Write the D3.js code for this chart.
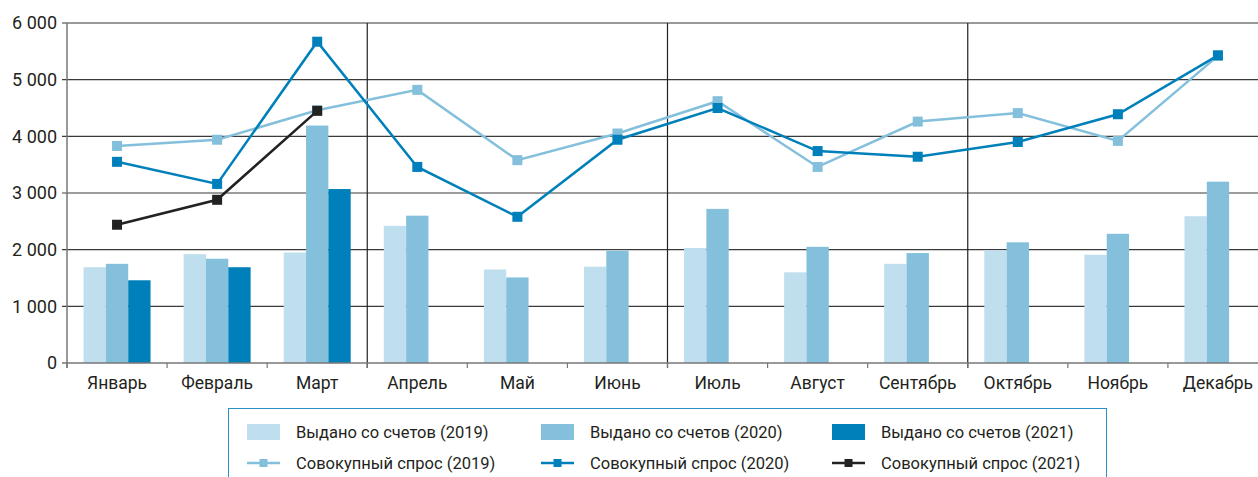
<html>
<script src="https://d3js.org/d3.v7.min.js"></script>
<style>
body { margin: 0; background: white; }
text { font-family: Roboto, "Liberation Sans", sans-serif; fill: #231f20; }
</style>
<body>
<svg width="1258" height="477"></svg>
<script>
// months and values
const months = ["Январь", "Февраль", "Март", "Апрель", "Май", "Июнь", "Июль", "Август", "Сентябрь", "Октябрь", "Ноябрь", "Декабрь"];
const issued2019 = [1690, 1920, 1950, 2420, 1650, 1700, 2030, 1600, 1750, 1990, 1910, 2590];
const issued2020 = [1750, 1840, 4190, 2600, 1510, 1980, 2720, 2050, 1940, 2130, 2280, 3200];
const issued2021 = [1460, 1690, 3070];
const demand2019 = [3830, 3940, 4460, 4820, 3580, 4050, 4620, 3460, 4260, 4410, 3920, 5420];
const demand2020 = [3550, 3160, 5670, 3460, 2580, 3940, 4500, 3740, 3640, 3900, 4390, 5430];
const demand2021 = [2440, 2880, 4450];
const yTicks = [0, 1000, 2000, 3000, 4000, 5000, 6000];

const c1 = "#bfdeee", c2 = "#84c0dc", c3 = "#0080bb";

const svg = d3.select("svg");

const x = d3.scaleBand().domain(months).range([67, 1268]);
const y = d3.scaleLinear().domain([0, 6000]).range([363, 23]);
const xs = d3.scaleBand().domain([0, 1, 2]).range([0, 67]);
const pad = (x.bandwidth() - 67) / 2;

// horizontal grid
svg.append("g")
  .selectAll("line")
  .data(yTicks.slice(1))
  .enter()
  .append("line")
  .attr("x1", 62).attr("x2", 1268)
  .attr("y1", d => y(d)).attr("y2", d => y(d))
  .attr("stroke", d => d == 6000 ? "#777" : "#3a3a3a")
  .attr("stroke-width", d => d == 6000 ? 1.5 : 1.2);

// y labels
svg.append("g")
  .selectAll("text")
  .data(yTicks)
  .enter()
  .append("text")
  .attr("x", 57)
  .attr("y", d => y(d))
  .attr("dy", "0.36em")
  .attr("text-anchor", "end")
  .style("font-size", "18px")
  .text(d => d3.format(",")(d).replace(",", " "));

// quarter separators
svg.append("g")
  .selectAll("line")
  .data(["Апрель", "Июль", "Октябрь"])
  .enter()
  .append("line")
  .attr("x1", d => x(d)).attr("x2", d => x(d))
  .attr("y1", 23).attr("y2", 368)
  .attr("stroke", "#222")
  .attr("stroke-width", 1.2);

// bars
const barSeries = [issued2019, issued2020, issued2021];
const barColors = [c1, c2, c3];
barSeries.forEach((vals, k) => {
  svg.append("g")
    .selectAll("rect")
    .data(vals)
    .enter()
    .append("rect")
    .attr("x", (d, i) => x(months[i]) + pad + xs(k))
    .attr("y", d => y(d))
    .attr("width", xs.bandwidth())
    .attr("height", d => y(0) - y(d))
    .attr("fill", barColors[k]);
});

// x axis
svg.append("line")
  .attr("x1", 62).attr("x2", 1268)
  .attr("y1", 363).attr("y2", 363)
  .attr("stroke", "#777").attr("stroke-width", 1.5);
svg.append("line")
  .attr("x1", 67).attr("x2", 67)
  .attr("y1", 23).attr("y2", 368)
  .attr("stroke", "#777").attr("stroke-width", 1.5);
svg.append("g")
  .selectAll("line")
  .data(months)
  .enter()
  .append("line")
  .attr("x1", d => x(d)).attr("x2", d => x(d))
  .attr("y1", 363).attr("y2", 368)
  .attr("stroke", "#777").attr("stroke-width", 1.2);

svg.append("g")
  .selectAll("text")
  .data(months)
  .enter()
  .append("text")
  .attr("x", d => x(d) + x.bandwidth() / 2)
  .attr("y", 383)
  .attr("dy", "0.36em")
  .attr("text-anchor", "middle")
  .style("font-size", "17.5px")
  .text(d => d);

// lines
const lineSeries = [demand2019, demand2020, demand2021];
const lineColors = [c2, c3, "#222"];
const line = d3.line()
  .x((d, i) => x(months[i]) + x.bandwidth() / 2)
  .y(d => y(d));
lineSeries.forEach((vals, k) => {
  const g = svg.append("g");
  g.append("path")
    .attr("d", line(vals))
    .attr("fill", "none")
    .attr("stroke", lineColors[k])
    .attr("stroke-width", 2.5);
  g.selectAll("rect")
    .data(vals)
    .enter()
    .append("rect")
    .attr("x", (d, i) => x(months[i]) + x.bandwidth() / 2 - 5)
    .attr("y", d => y(d) - 5)
    .attr("width", 10).attr("height", 10)
    .attr("fill", lineColors[k]);
});

// legend
svg.append("rect")
  .attr("x", 228.5).attr("y", 408.5)
  .attr("width", 878).attr("height", 80)
  .attr("fill", "none")
  .attr("stroke", "#2a8fc4").attr("stroke-width", 1);

const legendBars = ["Выдано со счетов (2019)", "Выдано со счетов (2020)", "Выдано со счетов (2021)"];
const legendLines = ["Совокупный спрос (2019)", "Совокупный спрос (2020)", "Совокупный спрос (2021)"];
const colX = [247, 541, 832];

legendBars.forEach((t, k) => {
  svg.append("rect")
    .attr("x", colX[k]).attr("y", 424)
    .attr("width", 33).attr("height", 16)
    .attr("fill", barColors[k]);
  svg.append("text")
    .attr("x", colX[k] + 49).attr("y", 432)
    .attr("dy", "0.36em")
    .style("font-size", "16.5px")
    .text(t);
});
legendLines.forEach((t, k) => {
  svg.append("line")
    .attr("x1", colX[k]).attr("x2", colX[k] + 33)
    .attr("y1", 463).attr("y2", 463)
    .attr("stroke", lineColors[k]).attr("stroke-width", 2.5);
  svg.append("rect")
    .attr("x", colX[k] + 12.5).attr("y", 459)
    .attr("width", 8).attr("height", 8)
    .attr("fill", lineColors[k]);
  svg.append("text")
    .attr("x", colX[k] + 49).attr("y", 463)
    .attr("dy", "0.36em")
    .style("font-size", "16.5px")
    .text(t);
});
</script>
</body>
</html>
